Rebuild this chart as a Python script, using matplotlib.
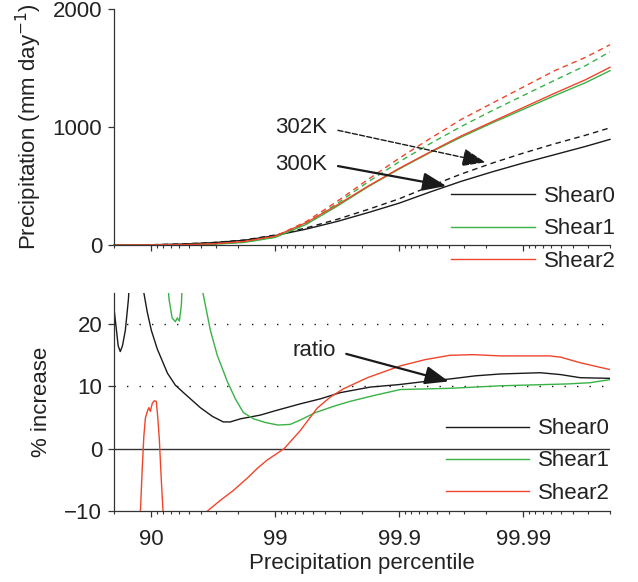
import numpy as np
import matplotlib
matplotlib.use("Agg")
import matplotlib.pyplot as plt
from matplotlib.lines import Line2D

plt.rcParams['font.family'] = ['Liberation Sans', 'DejaVu Sans']
FS = 16

# ---------------- data ----------------
# top panel: precipitation percentiles (x) and precipitation (mm/day)
pct_top = [80.0, 90.0, 94.38, 96.84, 98.22, 99.0, 99.438, 99.684, 99.822, 99.9,
           99.9438, 99.9684, 99.9822, 99.99, 99.99438, 99.99684, 99.998]
shear0_300 = [0, 2, 8, 20, 40, 80, 135, 200, 275, 355, 450, 540, 620, 695, 765, 835, 895]
shear0_302 = [0, 2.4, 8.7, 21, 42, 85, 145, 218, 302, 392, 499, 602, 694, 779, 857, 930, 993]
shear1_300 = [0, 1, 2, 7, 22, 65, 175, 330, 495, 645, 785, 915, 1035, 1150, 1265, 1375, 1477]
shear1_302 = [0, 1.3, 2.6, 8.2, 23.2, 67.5, 184, 353, 536, 706, 860, 1005, 1139, 1267, 1395, 1519, 1638]
shear2_300 = [0, 1, 3, 10, 30, 75, 190, 340, 500, 650, 790, 925, 1045, 1165, 1285, 1400, 1506]
shear2_302 = [0, 1.1, 2, 9, 28.5, 74, 199, 371, 557, 736, 904, 1065, 1202, 1339, 1476, 1590, 1697]

# bottom panel: % increase
pct_r0 = [80.0, 80.9, 81.5, 82.2, 82.9, 83.8, 84.7, 85.5, 87.7, 88.4, 89.2, 90.0, 91.05,
          92.6, 93.6, 94.5, 95.97, 96.78, 97.37, 97.69, 98.09, 98.68, 99.0, 99.37, 99.566,
          99.70, 99.829, 99.9, 99.944, 99.961, 99.9756, 99.9847, 99.9927, 99.995, 99.99653, 99.998]
ratio_shear0 = [22.5, 19, 16.5, 15.6, 16.5, 19, 24, 32, 40, 25.5, 22, 19, 16,
                12.1, 10.2, 9.0, 6.6, 5.2, 4.3, 4.3, 4.8, 5.4, 6.1, 7.2, 8.0,
                9.0, 9.9, 10.3, 10.9, 11.2, 11.7, 12.0, 12.2, 11.9, 11.4, 11.3]

pct_r1 = [80.0, 90.0, 92.4, 92.8, 93.2, 93.6, 93.83, 94.06, 94.27, 94.48, 95.58, 96.12,
          96.66, 97.06, 97.56, 97.9, 98.19, 98.50, 98.80, 99.05, 99.24, 99.37, 99.525,
          99.66, 99.75, 99.844, 99.902, 99.961, 99.9847, 99.99559, 99.99712, 99.998]
ratio_shear1 = [60, 50, 30, 24, 21, 20.4, 21, 20.5, 23, 30, 35, 25.5,
                19, 15, 10.8, 8.0, 5.8, 4.8, 4.2, 3.8, 3.9, 4.6, 5.8,
                6.8, 7.6, 8.6, 9.5, 9.7, 10.1, 10.4, 10.6, 11.1]

pct_r2 = [80.0, 86.5, 87.73, 88.17, 88.51, 88.83, 89.23, 89.53, 89.82, 90.18, 90.54,
          90.88, 91.13, 91.38, 91.69, 92.0, 92.97, 95.97, 96.47, 97.22, 97.82, 98.32,
          98.63, 98.84, 99.15, 99.37, 99.54, 99.64, 99.717, 99.819, 99.902, 99.938,
          99.961, 99.9747, 99.9847, 99.9939, 99.995, 99.99653, 99.998]
ratio_shear2 = [-40, -30, -10.5, -3, 2, 4.9, 6.0, 6.6, 6.0, 7.3, 7.7,
                7.6, 5.0, 1.5, -5, -11, -40, -15, -10, -8.3, -6.7, -4.7,
                -3.0, -1.8, 0, 2.9, 6.5, 8.3, 9.6, 11.4, 13.3, 14.3,
                15.0, 15.1, 14.9, 14.9, 14.7, 13.8, 12.7]

major_ticks = [90, 99, 99.9, 99.99]
major_labels = ['90', '99', '99.9', '99.99']
minor_ticks = ([80] + [91, 92, 93, 94, 95, 96, 97, 98]
               + [99.1, 99.2, 99.3, 99.4, 99.5, 99.6, 99.7, 99.8]
               + [99.91, 99.92, 99.93, 99.94, 99.95, 99.96, 99.97, 99.98]
               + [99.991, 99.992, 99.993, 99.994, 99.995, 99.996, 99.997, 99.998])

labels = ['Shear0', 'Shear1', 'Shear2']

# ---------------- style ----------------
BLACK = '#1a1a1a'
GREEN = '#38b246'
RED = '#f1452b'
AX = '#333333'
LW = 1.0
DASH = (0, (4, 3))


def fwd(p):
    p = np.asarray(p, dtype=float)
    return -np.log10(np.clip(1.0 - p / 100.0, 1e-9, None))


def inv(t):
    return 100.0 * (1.0 - 10.0 ** (-np.asarray(t, dtype=float)))


fig = plt.figure(figsize=(6.38, 5.82), dpi=100)
ax1 = fig.add_axes([114 / 638, 1 - 245 / 582, 496 / 638, 236 / 582])
ax2 = fig.add_axes([114 / 638, 1 - 511 / 582, 496 / 638, 218 / 582])

for ax in (ax1, ax2):
    ax.set_xscale('function', functions=(fwd, inv))
    ax.set_xlim(80, 99.998)
    ax.set_xticks(major_ticks)
    ax.set_xticks(minor_ticks, minor=True)
    for s in ('top', 'right'):
        ax.spines[s].set_visible(False)
    for s in ('left', 'bottom'):
        ax.spines[s].set_color(AX)
        ax.spines[s].set_linewidth(0.9)
    ax.tick_params(axis='both', which='major', direction='out', length=4, width=0.9,
                   color=AX, labelsize=FS, labelcolor='#222222')
    ax.tick_params(axis='x', which='minor', direction='out', length=2.2, width=0.8, color=AX)
    ax.tick_params(axis='y', which='major', length=4.5, pad=4)

# ---- top panel ----
ax1.plot(pct_top, shear0_302, color=BLACK, lw=LW, ls=DASH, clip_on=False)
ax1.plot(pct_top, shear1_302, color=GREEN, lw=LW, ls=DASH, clip_on=False)
ax1.plot(pct_top, shear2_302, color=RED, lw=LW, ls=DASH, clip_on=False)
ax1.plot(pct_top, shear0_300, color=BLACK, lw=LW, clip_on=False)
ax1.plot(pct_top, shear1_300, color=GREEN, lw=LW, clip_on=False)
ax1.plot(pct_top, shear2_300, color=RED, lw=LW, clip_on=False)
ax1.set_ylim(0, 2000)
ax1.set_yticks([0, 1000, 2000])
ax1.set_xticklabels([])
ax1.set_ylabel('Precipitation (mm day$^{-1}$)', fontsize=FS, color='#222222')
ax1.yaxis.set_label_coords(-0.142, 0.5)

ax1.annotate('302K', xy=(99.9798, 701), xycoords='data',
             xytext=(0.3246, 0.496), textcoords='axes fraction',
             fontsize=FS, color='#222222', va='center', ha='left',
             arrowprops=dict(arrowstyle='-|>,head_length=0.9,head_width=0.35',
                             color=BLACK, lw=1.0, ls='--', shrinkA=6, shrinkB=0,
                             relpos=(1.0, 0.5)))
ax1.annotate('300K', xy=(99.9582, 500), xycoords='data',
             xytext=(0.3246, 0.343), textcoords='axes fraction',
             fontsize=FS, color='#222222', va='center', ha='left',
             arrowprops=dict(arrowstyle='-|>,head_length=0.9,head_width=0.35',
                             color=BLACK, lw=1.6, shrinkA=6, shrinkB=0,
                             relpos=(1.0, 0.5)))

handles = [Line2D([], [], color=c, lw=LW) for c in (BLACK, GREEN, RED)]
ax1.legend(handles, labels, loc='center left', bbox_to_anchor=(451 / 638, 1 - 229 / 582),
           bbox_transform=fig.transFigure, frameon=False, borderpad=0, borderaxespad=0,
           handlelength=3.8, handletextpad=0.4, labelspacing=0.53, fontsize=FS,
           labelcolor='#222222')

# ---- bottom panel ----
ax2.axhline(0, color=AX, lw=1.0)
for yv in (10, 20):
    ax2.axhline(yv, color=BLACK, lw=1.0, ls=(0, (1, 8)))
ax2.plot(pct_r0, ratio_shear0, color=BLACK, lw=LW)
ax2.plot(pct_r1, ratio_shear1, color=GREEN, lw=LW)
ax2.plot(pct_r2, ratio_shear2, color=RED, lw=LW)
ax2.set_ylim(-10, 25)
ax2.set_yticks([-10, 0, 10, 20])
ax2.set_xticklabels(major_labels)
ax2.tick_params(axis='x', which='major', pad=9)
ax2.set_ylabel('% increase', fontsize=FS, color='#222222')
ax2.yaxis.set_label_coords(-0.125, 0.5)
ax2.set_xlabel('Precipitation percentile', fontsize=FS, color='#222222', labelpad=2)

ax2.annotate('ratio', xy=(99.96, 10.8), xycoords='data',
             xytext=(0.359, 0.734), textcoords='axes fraction',
             fontsize=FS, color='#222222', va='center', ha='left',
             arrowprops=dict(arrowstyle='-|>,head_length=0.9,head_width=0.35',
                             color=BLACK, lw=1.6, shrinkA=6, shrinkB=0,
                             relpos=(1.0, 0.5)))

ax2.legend(handles, labels, loc='center left', bbox_to_anchor=(446 / 638, 1 - 461 / 582),
           bbox_transform=fig.transFigure, frameon=False, borderpad=0, borderaxespad=0,
           handlelength=3.75, handletextpad=0.4, labelspacing=0.5, fontsize=FS,
           labelcolor='#222222')

fig.savefig('out.png', dpi=100)
